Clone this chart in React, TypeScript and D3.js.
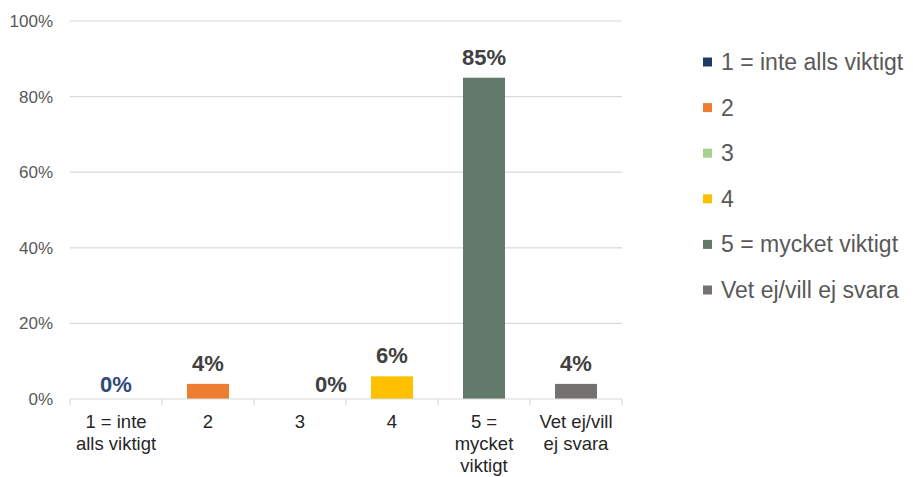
import * as d3 from "d3";

const categories = ["1 = inte alls viktigt", "2", "3", "4", "5 = mycket viktigt", "Vet ej/vill ej svara"];
const axisLabels = [["1 = inte", "alls viktigt"], ["2"], ["3"], ["4"], ["5 =", "mycket", "viktigt"], ["Vet ej/vill", "ej svara"]];
const values = [0, 4, 0, 6, 85, 4];
const colors = ["#1f3864", "#ed7d31", "#a9d18e", "#ffc000", "#627a6c", "#767171"];
const yTicks = [0, 20, 40, 60, 80, 100];

const W = 913;
const H = 477;
const M = { top: 21, left: 70, right: 291, bottom: 78 };
const font = "'Liberation Sans', Arial, sans-serif";

export default function App() {
  const x = d3.scaleBand().domain(categories).range([M.left, W - M.right]).paddingInner(0).paddingOuter(0);
  const y = d3.scaleLinear().domain([0, 100]).range([H - M.bottom, M.top]);
  const bw = 42;
  const bounds = [...categories.map(c => x(c)!), W - M.right];

  return (
    <svg width={W} height={H} style={{ position: "absolute", left: 0, top: 0, background: "#fff" }} fontFamily={font}>
      {yTicks.map(t => (
        <g key={t}>
          {t > 0 && <line x1={M.left} x2={W - M.right} y1={y(t)} y2={y(t)} stroke="#d9d9d9" strokeWidth={1.2} />}
          <text x={53} y={y(t)} dy="0.35em" textAnchor="end" fontSize={17} fill="#595959">{t}%</text>
        </g>
      ))}
      {categories.map((c, i) => (
        <rect key={c} x={x(c)! + x.bandwidth() / 2 - bw / 2} width={bw} y={y(values[i])} height={y(0) - y(values[i])} fill={colors[i]} />
      ))}
      <line x1={M.left} x2={W - M.right} y1={y(0)} y2={y(0)} stroke="#d9d9d9" strokeWidth={1.2} />
      {bounds.map((b, i) => (
        <line key={i} x1={b} x2={b} y1={y(0)} y2={y(0) + 6} stroke="#d9d9d9" strokeWidth={1.2} />
      ))}
      {categories.map((c, i) => (
        <text key={c} x={x(c)! + x.bandwidth() / 2 + (i === 2 ? 31 : 0)} y={y(values[i]) - (values[i] > 0 ? 13 : 7)} textAnchor="middle"
          fontSize={22} fontWeight="bold" fill={i === 0 ? "#2f4a7a" : "#404040"}>{values[i]}%</text>
      ))}
      {categories.map((c, i) => (
        <text key={c} x={x(c)! + x.bandwidth() / 2} y={428} textAnchor="middle" fontSize={18.5} fill="#262626">
          {axisLabels[i].map((l, j) => <tspan key={j} x={x(c)! + x.bandwidth() / 2} dy={j === 0 ? 0 : 22}>{l}</tspan>)}
        </text>
      ))}
      {categories.map((c, i) => (
        <g key={c} transform={`translate(703,${62 + i * 45.6})`}>
          <rect x={0} y={-4.5} width={9} height={9} fill={colors[i]} />
          <text x={18} dy="0.35em" fontSize={23} fill="#595959">{c}</text>
        </g>
      ))}
    </svg>
  );
}
